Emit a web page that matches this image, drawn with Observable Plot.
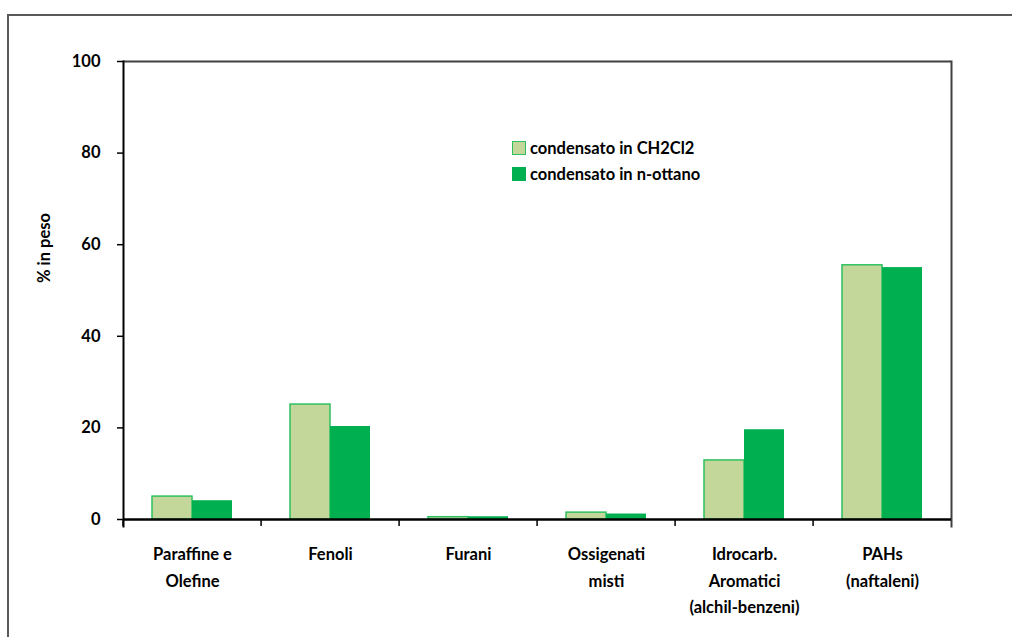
<!DOCTYPE html>
<html>
<head>
<meta charset="utf-8">
<script src="https://cdn.jsdelivr.net/npm/d3@7"></script>
<script src="https://cdn.jsdelivr.net/npm/@observablehq/plot@0.6"></script>
<style>
  html, body { margin: 0; padding: 0; background: #fff; overflow: hidden; }
  #wrap { position: relative; width: 1012px; height: 637px; font-family: Lato, "Open Sans", sans-serif; font-weight: 700; }
  #border { position: absolute; left: 7px; top: 14px; width: 1100px; height: 700px; border: 2px solid #595959; box-sizing: border-box; }
  #chart { position: absolute; left: 0; top: 0; }
  #ylabel { position: absolute; left: 44px; top: 248px; transform: translate(-50%, -50%) rotate(-90deg); font-size: 16.5px; white-space: nowrap; color: #000; }
  #legend { position: absolute; left: 512px; top: 135px; font-size: 16.5px; line-height: 26px; color: #000; }
  #legend .item { display: flex; align-items: center; height: 26px; }
  #legend .sw { width: 14px; height: 14px; box-sizing: border-box; margin-right: 4px; }
</style>
</head>
<body>
<div id="wrap">
  <div id="border"></div>
  <div id="chart"></div>
  <div id="ylabel">% in peso</div>
  <div id="legend"></div>
</div>
<script>
const categories = ["Paraffine e\nOlefine", "Fenoli", "Furani", "Ossigenati\nmisti", "Idrocarb.\nAromatici\n(alchil-benzeni)", "PAHs\n(naftaleni)"];
const series = ["condensato in CH2Cl2", "condensato in n-ottano"];
const valuesCH2Cl2 = [5.0, 25.1, 0.5, 1.5, 12.9, 55.5];
const valuesNOttano = [4.1, 20.3, 0.6, 1.2, 19.6, 55.0];
const yTicks = [0, 20, 40, 60, 80, 100];
const colors = ["#c4d79b", "#00b050"];
const strokes = ["#2fc060", "none"];

const data = [];
categories.forEach((c, i) => {
  data.push({category: c, series: series[0], value: valuesCH2Cl2[i]});
  data.push({category: c, series: series[1], value: valuesNOttano[i]});
});

const W = 1012, H = 637, mL = 120, mR = 59, mT = 61, mB = 118;
const bandW = (W - mL - mR) / categories.length;
const font = "Lato, 'Open Sans', sans-serif";

const chart = Plot.plot({
  width: W, height: H,
  marginLeft: mL, marginRight: mR, marginTop: mT, marginBottom: mB,
  style: {fontFamily: font, fontSize: "16.5px", fontWeight: 700, color: "#000", background: "transparent"},
  fx: {domain: categories, paddingInner: 0, paddingOuter: 0, label: null, axis: null},
  x: {domain: series, paddingInner: 0, paddingOuter: 0.72, axis: null},
  y: {domain: [0, 100], axis: null},
  color: {domain: series, range: colors},
  marks: [
    Plot.barY(data, {
      fx: "category", x: "series", y: "value",
      fill: "series",
      stroke: d => strokes[series.indexOf(d.series)],
      strokeWidth: 1.5
    }),
    Plot.ruleY([100], {stroke: "#404040", strokeWidth: 2}),
    Plot.frame({anchor: "right", facetAnchor: "right", stroke: "#404040", strokeWidth: 2, insetBottom: -7}),
    Plot.frame({anchor: "left", facetAnchor: "left", stroke: "#000", strokeWidth: 2, insetBottom: -7}),
    Plot.ruleY([0], {stroke: "#000", strokeWidth: 2.5}),
    Plot.axisY({ticks: yTicks, tickSize: 6, tickPadding: 17, tickFormat: d => d, stroke: "#000", strokeWidth: 1.5, fontSize: 16.5, fontWeight: 700, label: null}),
    Plot.axisFx({anchor: "bottom", tickSize: 7, tickFormat: null, dx: -bandW / 2, stroke: "#000", strokeWidth: 1.5, label: null}),
    Plot.axisFx({anchor: "bottom", tickSize: 0, tickPadding: 22, lineHeight: 1.6, fontSize: 16.5, fontWeight: 700, label: null})
  ]
});
document.getElementById("chart").appendChild(chart);

const legend = document.getElementById("legend");
series.forEach((s, i) => {
  const item = document.createElement("div");
  item.className = "item";
  const sw = document.createElement("div");
  sw.className = "sw";
  sw.style.background = colors[i];
  sw.style.border = "1.5px solid " + (strokes[i] === "none" ? colors[i] : strokes[i]);
  const t = document.createElement("span");
  t.textContent = s;
  item.appendChild(sw);
  item.appendChild(t);
  legend.appendChild(item);
});
</script>
</body>
</html>
